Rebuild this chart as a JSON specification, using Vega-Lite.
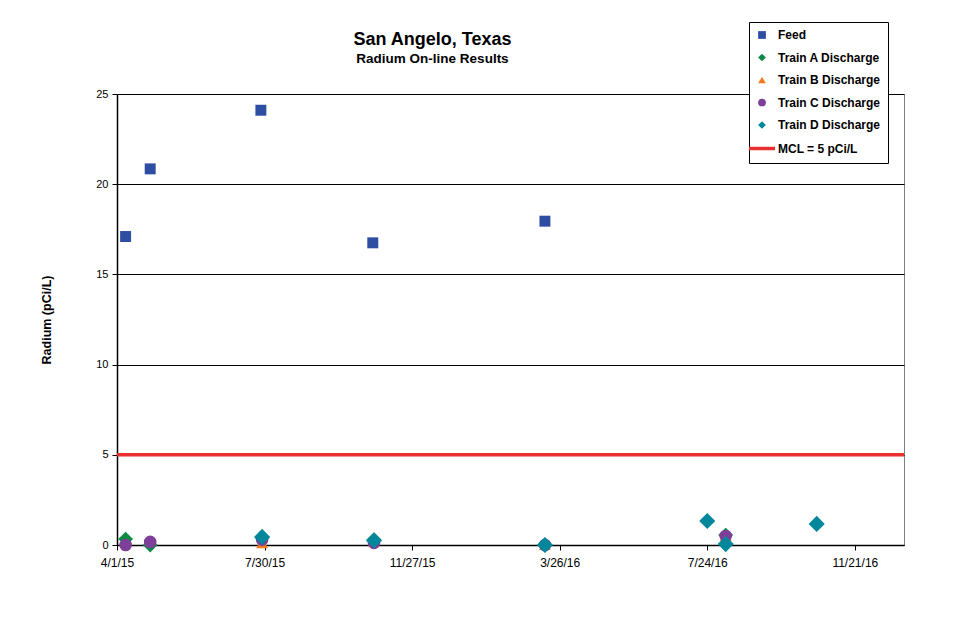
{
  "$schema": "https://vega.github.io/schema/vega-lite/v6.json",
  "autosize": "none",
  "width": 787,
  "height": 451,
  "padding": {"left": 117, "top": 94, "right": 76, "bottom": 78},
  "background": "white",
  "config": {
    "font": "Liberation Sans",
    "view": {"stroke": "#808080", "strokeWidth": 1}
  },
  "title": {
    "text": "San Angelo, Texas",
    "subtitle": "Radium On-line Results",
    "font": "Liberation Sans",
    "fontSize": 18,
    "fontWeight": "bold",
    "color": "black",
    "subtitleFont": "Liberation Sans",
    "subtitleFontSize": 13.5,
    "subtitleFontWeight": "bold",
    "subtitleColor": "black",
    "subtitlePadding": 3,
    "anchor": "middle",
    "frame": "group",
    "dx": -78,
    "offset": -44
  },
  "datasets": {
    "samples": [
      {"date": "2015-04-08T00:00:00", "series": "Feed", "radium": 17.1},
      {"date": "2015-04-28T00:00:00", "series": "Feed", "radium": 20.85},
      {"date": "2015-07-27T00:00:00", "series": "Feed", "radium": 24.1},
      {"date": "2015-10-26T00:00:00", "series": "Feed", "radium": 16.75},
      {"date": "2016-03-14T00:00:00", "series": "Feed", "radium": 17.95},
      {"date": "2015-04-08T00:00:00", "series": "Train A Discharge", "radium": 0.33},
      {"date": "2015-04-28T00:00:00", "series": "Train A Discharge", "radium": 0.0},
      {"date": "2015-07-28T00:00:00", "series": "Train A Discharge", "radium": 0.4},
      {"date": "2015-10-27T00:00:00", "series": "Train A Discharge", "radium": 0.3},
      {"date": "2016-03-14T00:00:00", "series": "Train A Discharge", "radium": 0.0},
      {"date": "2016-08-08T00:00:00", "series": "Train A Discharge", "radium": 0.55},
      {"date": "2015-07-28T00:00:00", "series": "Train B Discharge", "radium": 0.1},
      {"date": "2015-10-27T00:00:00", "series": "Train B Discharge", "radium": 0.2},
      {"date": "2016-03-14T00:00:00", "series": "Train B Discharge", "radium": 0.0},
      {"date": "2016-08-08T00:00:00", "series": "Train B Discharge", "radium": 0.5},
      {"date": "2015-04-08T00:00:00", "series": "Train C Discharge", "radium": 0.0},
      {"date": "2015-04-28T00:00:00", "series": "Train C Discharge", "radium": 0.17},
      {"date": "2015-07-28T00:00:00", "series": "Train C Discharge", "radium": 0.3},
      {"date": "2015-10-27T00:00:00", "series": "Train C Discharge", "radium": 0.12},
      {"date": "2016-03-14T00:00:00", "series": "Train C Discharge", "radium": 0.0},
      {"date": "2016-08-08T00:00:00", "series": "Train C Discharge", "radium": 0.5},
      {"date": "2015-07-28T00:00:00", "series": "Train D Discharge", "radium": 0.45},
      {"date": "2015-10-27T00:00:00", "series": "Train D Discharge", "radium": 0.25},
      {"date": "2016-03-14T00:00:00", "series": "Train D Discharge", "radium": 0.0},
      {"date": "2016-07-24T00:00:00", "series": "Train D Discharge", "radium": 1.33},
      {"date": "2016-08-08T00:00:00", "series": "Train D Discharge", "radium": 0.05},
      {"date": "2016-10-21T00:00:00", "series": "Train D Discharge", "radium": 1.17}
    ],
    "mcl": [{"limit": 5}]
  },
  "layer": [
    {
      "data": {"name": "mcl"},
      "mark": {"type": "rule", "color": "#E8312F", "strokeWidth": 3.5},
      "encoding": {
        "y": {"field": "limit", "type": "quantitative", "scale": {"domain": [0, 25]}}
      }
    },
    {
      "data": {"name": "samples"},
      "encoding": {
        "x": {
          "field": "date",
          "type": "temporal",
          "scale": {
            "domain": [{"year": 2015, "month": 4, "date": 1}, {"year": 2016, "month": 12, "date": 31}],
            "nice": false
          },
          "axis": {
            "title": null,
            "values": [
              {"year": 2015, "month": 4, "date": 1},
              {"year": 2015, "month": 7, "date": 30},
              {"year": 2015, "month": 11, "date": 27},
              {"year": 2016, "month": 3, "date": 26},
              {"year": 2016, "month": 7, "date": 24},
              {"year": 2016, "month": 11, "date": 21}
            ],
            "format": "%-m/%-d/%y",
            "labelFlush": false,
            "labelOverlap": false,
            "grid": false,
            "domainColor": "black",
            "domainWidth": 1.5,
            "tickColor": "black",
            "tickSize": 5,
            "labelPadding": 7,
            "labelFontSize": 12,
            "labelColor": "black",
            "labelFont": "Liberation Sans"
          }
        },
        "y": {
          "field": "radium",
          "type": "quantitative",
          "scale": {"domain": [0, 25]},
          "axis": {
            "title": "Radium (pCi/L)",
            "titleFont": "Liberation Sans",
            "titleFontSize": 12.5,
            "titleFontWeight": "bold",
            "titleColor": "black",
            "titlePadding": 42,
            "values": [0, 5, 10, 15, 20, 25],
            "grid": true,
            "gridColor": "black",
            "gridWidth": 1,
            "domainColor": "black",
            "domainWidth": 1.5,
            "tickColor": "black",
            "tickSize": 5,
            "labelPadding": 4,
            "labelFontSize": 11,
            "labelColor": "black",
            "labelFont": "Liberation Sans"
          }
        },
        "color": {
          "field": "series",
          "type": "nominal",
          "scale": {
            "domain": ["Feed", "Train A Discharge", "Train B Discharge", "Train C Discharge", "Train D Discharge", "MCL = 5 pCi/L"],
            "range": ["#2E4EA2", "#0C8A43", "#F47A20", "#7E3F98", "#00879C", "#E8312F"]
          },
          "legend": {
            "title": null,
            "orient": "none",
            "legendX": 632,
            "legendY": -72,
            "fillColor": "white",
            "strokeColor": "black",
            "padding": 7,
            "labelFont": "Liberation Sans",
            "labelFontSize": 12,
            "labelFontWeight": "bold",
            "labelColor": "black",
            "symbolSize": 60,
            "rowPadding": 10.5,
            "labelOffset": 10,
            "symbolOpacity": 1,
            "encode": {
              "symbols": {
                "update": {
                  "stroke": {"signal": "scale('color', datum.value)"},
                  "strokeWidth": {"signal": "datum.value === 'MCL = 5 pCi/L' ? 3.5 : 0"},
                  "size": {"signal": "datum.value === 'MCL = 5 pCi/L' ? 680 : 60"}
                }
              }
            }
          }
        },
        "shape": {
          "field": "series",
          "type": "nominal",
          "scale": {
            "domain": ["Feed", "Train A Discharge", "Train B Discharge", "Train C Discharge", "Train D Discharge", "MCL = 5 pCi/L"],
            "range": ["square", "diamond", "triangle-up", "circle", "diamond", "stroke"]
          }
        }
      },
      "layer": [
        {
          "transform": [{"filter": "datum.series === 'Feed'"}],
          "mark": {"type": "point", "filled": true, "opacity": 1, "size": 120}
        },
        {
          "transform": [{"filter": "datum.series === 'Train A Discharge'"}],
          "mark": {"type": "point", "filled": true, "opacity": 1, "size": 220}
        },
        {
          "transform": [{"filter": "datum.series === 'Train B Discharge'"}],
          "mark": {"type": "point", "filled": true, "opacity": 1, "size": 140}
        },
        {
          "transform": [{"filter": "datum.series === 'Train C Discharge'"}],
          "mark": {"type": "point", "filled": true, "opacity": 1, "size": 160}
        },
        {
          "transform": [{"filter": "datum.series === 'Train D Discharge'"}],
          "mark": {"type": "point", "filled": true, "opacity": 1, "size": 260}
        }
      ]
    }
  ]
}
